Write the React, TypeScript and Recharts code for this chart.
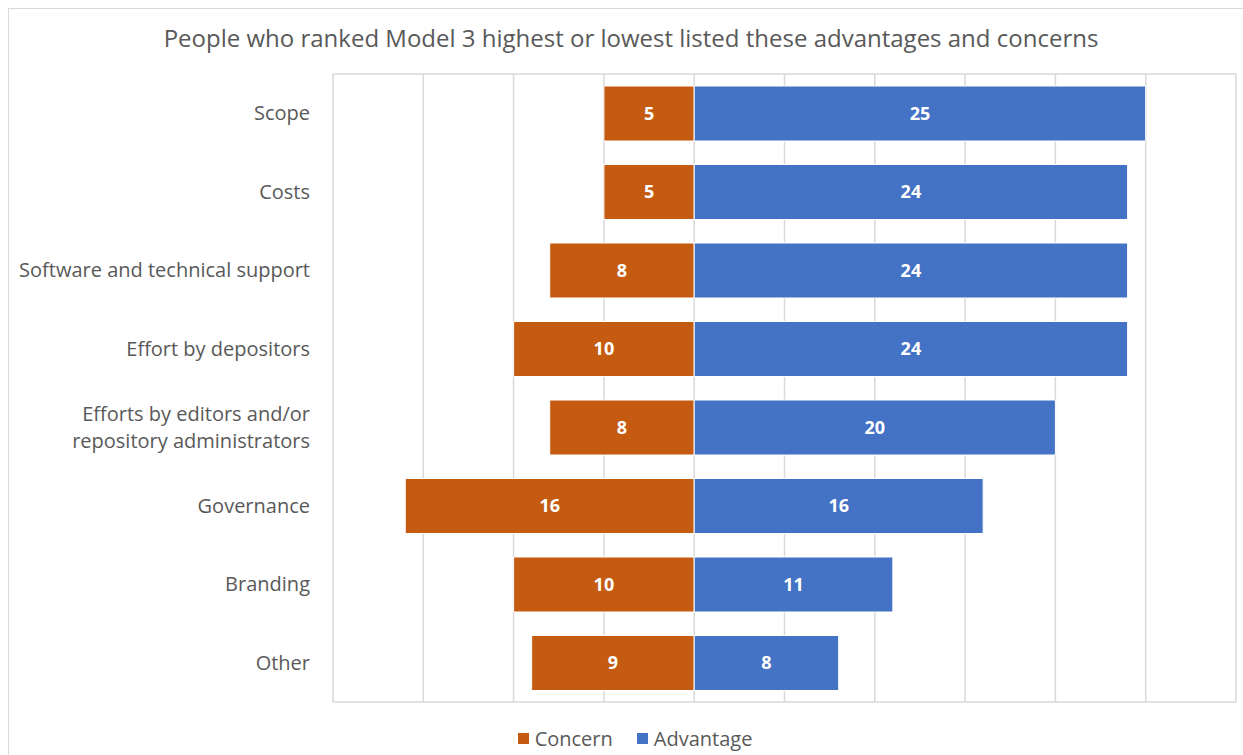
import React from 'react'
import { Bar, BarChart, CartesianGrid, LabelList, XAxis, YAxis } from 'recharts'

const categories = [
  'Scope',
  'Costs',
  'Software and technical support',
  'Effort by depositors',
  'Efforts by editors and/or\nrepository administrators',
  'Governance',
  'Branding',
  'Other',
]
const concern = [5, 5, 8, 10, 8, 16, 10, 9]
const advantage = [25, 24, 24, 24, 20, 16, 11, 8]
const xTicks = [-20, -15, -10, -5, 0, 5, 10, 15, 20, 25, 30]

const data = categories.map((name, i) => ({
  name,
  concern: -concern[i],
  advantage: advantage[i],
}))

const ORANGE = '#C55A11'
const BLUE = '#4472C4'
const GRID = '#d9d9d9'
const FONT = '"Open Sans", sans-serif'

function CategoryTick(props: any) {
  const { x, y, payload } = props
  const lines = String(payload.value).split('\n')
  const lh = 27
  const start = y - ((lines.length - 1) * lh) / 2
  return (
    <text x={x} textAnchor="end" fill="#595959" fontSize={20} fontFamily={FONT}>
      {lines.map((l, i) => (
        <tspan key={i} x={x} y={start + i * lh} dy="0.35em">
          {l}
        </tspan>
      ))}
    </text>
  )
}

const absFmt = (v: any) => Math.abs(Number(v))

// vertical grid at every x tick, using the axis scale
const vGrid = ({ xAxis, offset }: any) => {
  if (xAxis && typeof xAxis.scale === 'function') return xTicks.map((t) => xAxis.scale(t))
  return xTicks.map((t) => offset.left + ((t - xTicks[0]) / (xTicks[xTicks.length - 1] - xTicks[0])) * offset.width)
}

export default function App() {
  return (
    <div
      style={{
        position: 'absolute',
        left: 8,
        top: 8,
        width: 1235,
        height: 747,
        borderTop: `1px solid ${GRID}`,
        borderLeft: `1px solid ${GRID}`,
        boxSizing: 'border-box',
        fontFamily: FONT,
        overflow: 'hidden',
      }}
    >
      <div
        style={{
          position: 'absolute',
          left: 0,
          width: 1244,
          top: 12,
          textAlign: 'center',
          fontSize: 24,
          color: '#595959',
        }}
      >
        People who ranked Model 3 highest or lowest listed these advantages and concerns
      </div>
      <BarChart
        width={1234}
        height={746}
        data={data}
        layout="vertical"
        stackOffset="sign"
        barSize={55}
        margin={{ top: 65, right: 7, bottom: 53, left: 0 }}
      >
        <CartesianGrid
          stroke={GRID}
          strokeWidth={1.5}
          horizontalCoordinatesGenerator={({ offset }: any) => [offset.top, offset.top + offset.height]}
          verticalCoordinatesGenerator={vGrid}
        />
        <XAxis
          type="number"
          domain={[-20, 30]}
          ticks={xTicks}
          tick={false}
          axisLine={false}
          tickLine={false}
          height={0}
        />
        <YAxis
          type="category"
          dataKey="name"
          width={324}
          axisLine={false}
          tickLine={false}
          tickSize={0}
          tickMargin={23}
          tick={<CategoryTick />}
          interval={0}
        />
        <Bar dataKey="concern" stackId="a" fill={ORANGE} stroke="#ffffff" strokeWidth={1} isAnimationActive={false}>
          <LabelList
            dataKey="concern"
            position="center"
            formatter={absFmt}
            fill="#ffffff"
            fontWeight="bold"
            fontSize={18}
            fontFamily={FONT}
          />
        </Bar>
        <Bar dataKey="advantage" stackId="a" fill={BLUE} stroke="#ffffff" strokeWidth={1} isAnimationActive={false}>
          <LabelList
            dataKey="advantage"
            position="center"
            fill="#ffffff"
            fontWeight="bold"
            fontSize={18}
            fontFamily={FONT}
          />
        </Bar>
      </BarChart>
      <div
        style={{
          position: 'absolute',
          left: 0,
          width: 1252,
          top: 716,
          display: 'flex',
          justifyContent: 'center',
          alignItems: 'center',
          fontSize: 20,
          color: '#595959',
        }}
      >
        <span style={{ display: 'inline-block', width: 11, height: 11, background: ORANGE, marginRight: 6 }} />
        <span style={{ marginRight: 24 }}>Concern</span>
        <span style={{ display: 'inline-block', width: 11, height: 11, background: BLUE, marginRight: 6 }} />
        <span>Advantage</span>
      </div>
    </div>
  )
}
